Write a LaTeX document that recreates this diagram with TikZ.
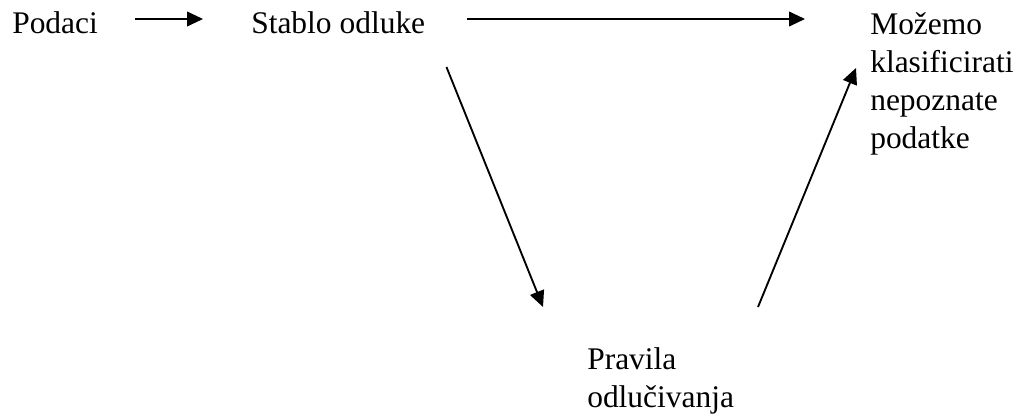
\documentclass[tikz,border=0pt]{standalone}
\usepackage{fontspec}
\setmainfont{Liberation Serif}
\usetikzlibrary{arrows.meta}

\begin{document}
\begin{tikzpicture}[x=0.75pt,y=-0.75pt,
        txt/.style={anchor=base west,inner sep=0pt,align=left,font=\fontsize{23.6}{28.5}\selectfont},
        arr/.style={line width=1.4pt,-{Triangle[length=12pt,width=11pt]}}]
        \useasboundingbox (0,0) rectangle (1023,415);
        \node[txt] (podaci) at (12,33) {Podaci};
        \node[txt] (stablo) at (251,33) {Stablo odluke};
        \node[txt] (mozemo) at (870,148) {Možemo\\klasificirati\\nepoznate\\podatke};
        \node[txt] (pravila) at (587,407) {Pravila\\odlučivanja};
        \draw[arr] ([shift={(37,-14)}]podaci.base east) -- ([shift={(-48,-14)}]stablo.base west);
        \draw[arr] ([shift={(42,-14)}]stablo.base east) -- ([shift={(-65,-129)}]mozemo.base west);
        \draw[arr] ([shift={(21,34)}]stablo.base east) -- ([shift={(-44,-100)}]pravila.base west);
        \draw[arr] ([shift={(171,-100)}]pravila.base west) -- ([shift={(-14,-80)}]mozemo.base west);
    \end{tikzpicture}
\end{document}
